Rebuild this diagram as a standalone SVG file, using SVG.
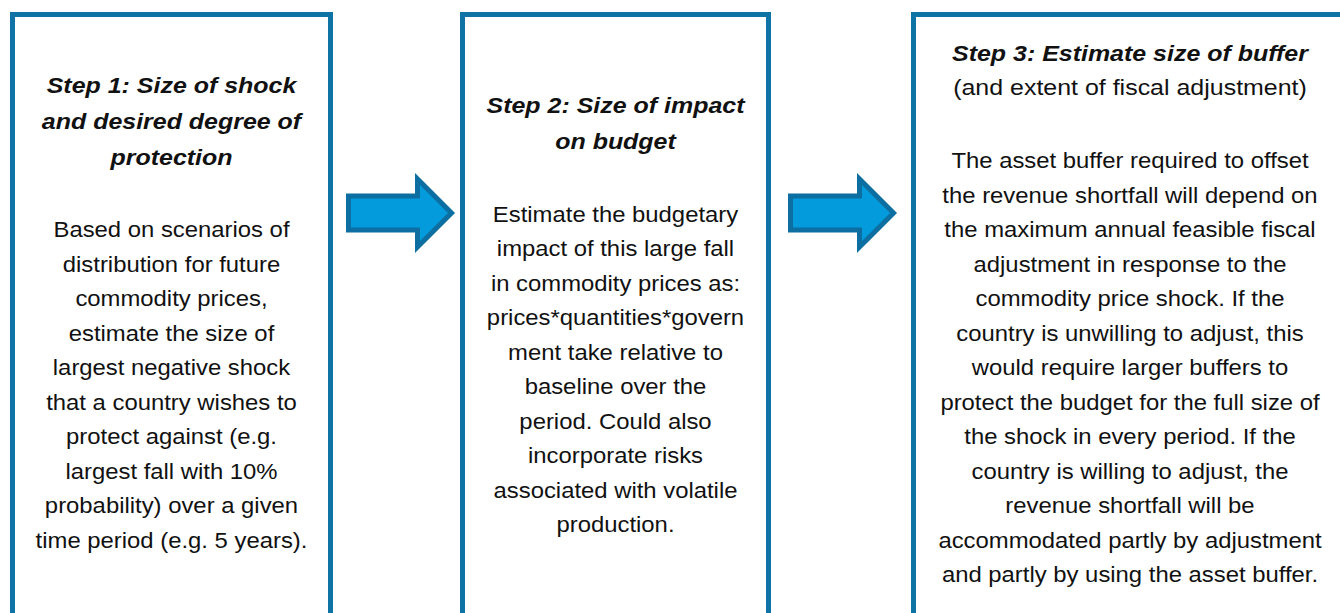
<svg xmlns="http://www.w3.org/2000/svg" width="1340" height="613" viewBox="0 0 1340 613">
<style>
.box{fill:#fff;stroke:#1073a5;stroke-width:5}
.arrow{fill:#039bdc;stroke:#0d6fa1;stroke-width:5;stroke-linejoin:miter}
text{font-family:"Liberation Sans",Arial,sans-serif;fill:#111;text-anchor:middle}
.t{font-size:22.5px;font-weight:bold;font-style:italic}
.s{font-size:22.5px}
.b{font-size:21.5px}
</style>
<defs>
<path id="arr" d="M348.5,196 L417.5,196 L417.5,179 L451.5,213 L417.5,247 L417.5,230 L348.5,230 Z"/>
</defs>
<rect width="1340" height="613" fill="#fff"/>
<g id="node1">
<rect class="box" x="12.5" y="14.5" width="318" height="640"/>
<g transform="translate(171.5 0) scale(1.11 1)">
<text class="t" x="0" y="93">Step 1: Size of shock</text>
<text class="t" x="0" y="129">and desired degree of</text>
<text class="t" x="0" y="165">protection</text>
<text class="b" x="0" y="237.5">Based on scenarios of</text>
<text class="b" x="0" y="272">distribution for future</text>
<text class="b" x="0" y="306.5">commodity prices,</text>
<text class="b" x="0" y="341">estimate the size of</text>
<text class="b" x="0" y="375.5">largest negative shock</text>
<text class="b" x="0" y="410">that a country wishes to</text>
<text class="b" x="0" y="444.5">protect against (e.g.</text>
<text class="b" x="0" y="479">largest fall with 10%</text>
<text class="b" x="0" y="513.5">probability) over a given</text>
<text class="b" x="0" y="548">time period (e.g. 5 years).</text>
</g>
</g>
<g id="node2">
<rect class="box" x="462.5" y="14.5" width="306" height="640"/>
<g transform="translate(615.5 0) scale(1.11 1)">
<text class="t" x="0" y="113">Step 2: Size of impact</text>
<text class="t" x="0" y="149">on budget</text>
<text class="b" x="0" y="222">Estimate the budgetary</text>
<text class="b" x="0" y="256.5">impact of this large fall</text>
<text class="b" x="0" y="291">in commodity prices as:</text>
<text class="b" x="0" y="325.5">prices*quantities*govern</text>
<text class="b" x="0" y="360">ment take relative to</text>
<text class="b" x="0" y="394.5">baseline over the</text>
<text class="b" x="0" y="429">period. Could also</text>
<text class="b" x="0" y="463.5">incorporate risks</text>
<text class="b" x="0" y="498">associated with volatile</text>
<text class="b" x="0" y="532.5">production.</text>
</g>
</g>
<g id="node3">
<rect class="box" x="913.5" y="14.5" width="434" height="640"/>
<g transform="translate(1130 0) scale(1.11 1)">
<text class="t" x="0" y="61">Step 3: Estimate size of buffer</text>
<text class="s" x="0" y="95">(and extent of fiscal adjustment)</text>
<text class="b" x="0" y="168.5">The asset buffer required to offset</text>
<text class="b" x="0" y="203">the revenue shortfall will depend on</text>
<text class="b" x="0" y="237.5">the maximum annual feasible fiscal</text>
<text class="b" x="0" y="272">adjustment in response to the</text>
<text class="b" x="0" y="306.5">commodity price shock. If the</text>
<text class="b" x="0" y="341">country is unwilling to adjust, this</text>
<text class="b" x="0" y="375.5">would require larger buffers to</text>
<text class="b" x="0" y="410">protect the budget for the full size of</text>
<text class="b" x="0" y="444.5">the shock in every period. If the</text>
<text class="b" x="0" y="479">country is willing to adjust, the</text>
<text class="b" x="0" y="513.5">revenue shortfall will be</text>
<text class="b" x="0" y="548">accommodated partly by adjustment</text>
<text class="b" x="0" y="582.5">and partly by using the asset buffer.</text>
</g>
</g>
<g id="connectors">
<use href="#arr" class="arrow"/>
<use href="#arr" class="arrow" transform="translate(442 0)"/>
</g>
</svg>
